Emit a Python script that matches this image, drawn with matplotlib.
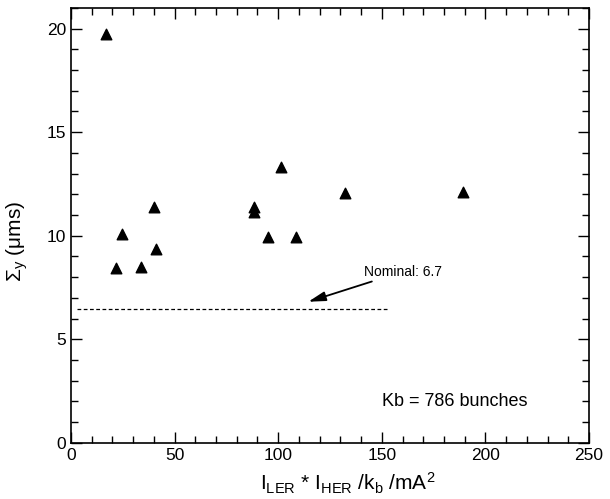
import matplotlib
matplotlib.use("Agg")
import matplotlib.pyplot as plt
from matplotlib.ticker import MultipleLocator

plt.rcParams['font.family'] = ['Liberation Sans', 'DejaVu Sans']
plt.rcParams['mathtext.default'] = 'regular'

# current product / bunches vs vertical luminous size
x = [16.9, 21.7, 24.8, 33.8, 39.9, 41.2, 88.5, 88.5, 94.9, 101.2, 108.6, 132.4, 189.3]
y = [19.75, 8.42, 10.1, 8.5, 11.37, 9.35, 11.37, 11.14, 9.95, 13.3, 9.95, 12.06, 12.12]

nominal = 6.45
nominal_x = [3, 153]

fig = plt.figure(figsize=(6.1, 4.99), dpi=100)
ax = fig.add_axes([0.1164, 0.1128, 0.8492, 0.8712])

ax.scatter(x, y, marker='^', s=58, color='black', zorder=3)
ax.plot(nominal_x, [nominal, nominal], linestyle=(0, (3, 2)), color='black', linewidth=0.9)

ax.annotate('Nominal: 6.7', xy=(114.5, 6.81), xytext=(141.2, 8.26),
            fontsize=10, va='center', ha='left',
            arrowprops=dict(arrowstyle='-|>,head_length=0.8,head_width=0.22', color='black',
                            lw=1.3, mutation_scale=13, shrinkA=0, shrinkB=0))
ax.text(150, 1.98, 'Kb = 786 bunches', fontsize=13, va='center', ha='left')

ax.set_xlim(0, 250)
ax.set_ylim(0, 21)
ax.xaxis.set_major_locator(MultipleLocator(50))
ax.xaxis.set_minor_locator(MultipleLocator(10))
ax.yaxis.set_major_locator(MultipleLocator(5))
ax.yaxis.set_minor_locator(MultipleLocator(1))
ax.tick_params(which='both', direction='in', top=True, right=True, labelsize=12.5, width=1)
ax.tick_params(which='major', length=8)
ax.tick_params(which='minor', length=5)
for s in ax.spines.values():
    s.set_linewidth(1.2)

ax.set_xlabel('$I_{LER}$ * $I_{HER}$ /$k_b$ /mA$^2$', fontsize=15)
ax.xaxis.set_label_coords(0.535, -0.065)
ax.set_ylabel(r'$\Sigma_y$ (μms)', fontsize=15)
ax.yaxis.set_label_coords(-0.08, 0.464)

fig.savefig('out.png', dpi=100)
